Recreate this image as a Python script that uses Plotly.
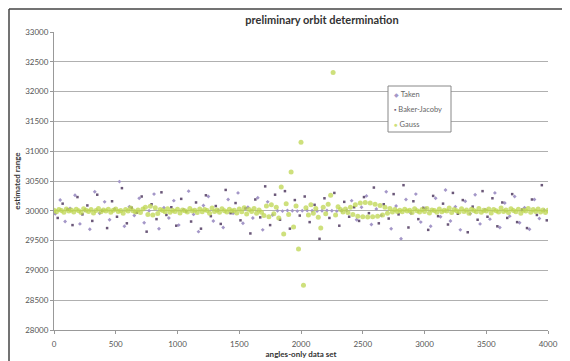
import plotly.graph_objects as go

# ---------------- data ----------------
gauss_x = list(range(0, 4001, 20))
gauss_y = [
    30010, 29985, 30020, 30005, 29975, 30030, 29995, 30015, 29980, 30025,
    30000, 29970, 30035, 30010, 29990, 30020, 29965, 30005, 30040, 29985,
    30015, 29995, 30025, 29975, 30010, 30030, 29990, 30005, 29960, 30020,
    29995, 30045, 30000, 29980, 30015, 29970, 30030, 30060, 29940, 30075,
    29930, 30050, 29955, 30020, 30005, 29985, 30035, 29975, 30010, 29990,
    30025, 29965, 30015, 30000, 29980, 30040, 29995, 30010, 29970, 30030,
    29985, 30020, 30005, 29960, 30045, 29990, 30015, 29975, 30035, 30000,
    29980, 30025, 29995, 30010, 29965, 30030, 29985, 30050, 29945, 30020,
    29990, 30040, 29960, 30015, 29975,
    29920, 30080, 29900, 30100, 29950, 30060, 29880, 30400, 29610, 30120,
    29940, 30650, 29730, 30080, 29360, 31150, 28750, 30050, 29930, 30100,
    29960, 30040, 29890, 29710, 30060, 29950, 30110, 30260, 32320, 29930,
    30070,
    30020, 29980, 30030, 29970, 30060, 29940, 30100, 29910, 30130, 29900,
    30140, 29895, 30130, 29900, 30110, 29910, 30090, 29930, 30060, 29960,
    30040, 29980, 30020, 29990, 30010,
    29985, 30025, 29995, 30010, 29970, 30035, 30000, 29980, 30020, 29990,
    30040, 29965, 30015, 30005, 29975, 30030, 29985, 30010, 29995, 30045,
    29970, 30020, 30000, 29980, 30035, 29990, 30015, 29960, 30025, 30005,
    29985, 30040, 29975, 30010, 29995, 30030, 29965, 30020, 30000, 29980,
    30045, 29990, 30015, 29970, 30035, 30005, 29985, 30025, 29960, 30010,
    29995, 30040, 29975, 30020, 29990, 30030, 29980, 30015, 29970, 30010,
]

taken_x = list(range(10, 4000, 40))
taken_y = [
    29950, 30180, 29820, 30040, 30260, 29780, 30010, 29690, 30320, 29960,
    30150, 29850, 30030, 30490, 29740, 30070, 29920, 30210, 29800, 30000,
    30280, 29700, 30050, 29880, 30170, 29760, 30020, 30330, 29940, 29650,
    30090, 30240, 29830, 30010, 29720, 30190, 29960, 30300, 29790, 30060,
    29880, 30220, 29680, 30150, 29930, 30000, 29995, 30005, 30000, 29995,
    30000, 30005, 30000, 29995, 30000, 30005, 30000, 29995, 30000, 30005,
    30170, 29850, 30060, 30250, 29770, 30030, 29920, 30320, 29700, 30080,
    29530, 30190, 29960, 30280, 29810, 30040, 29740, 30210, 29900, 30350,
    29830, 30070, 29680, 30160, 29950, 30270, 29780, 30020, 29860, 30300,
    29720, 30130, 29910, 30240, 29800, 30050, 29690, 30190, 29870, 30010,
]

bj_x = list(range(30, 4000, 40))
bj_y = [
    29880, 30120, 30020, 29760, 30230, 29940, 30090, 29830, 30270, 30000,
    29710, 30160, 29900, 30380, 29790, 30050, 29970, 30240, 29650, 30110,
    29860, 30310, 29930, 30060, 29750, 30200, 29990, 29820, 30140, 29700,
    30260, 29910, 30080, 29780, 30350, 29960, 30130, 29840, 30040, 29620,
    30190, 29890, 30410, 29760, 30270, 29850, 30330, 29700, 30180, 29920,
    30240, 29810, 30100, 29530, 30210, 29880, 30300, 29750, 30150, 29900,
    30060, 29830, 30230, 29960, 30390, 29790, 30110, 29870, 30280, 29940,
    30430, 29720, 30160, 29860, 30050, 29680, 30250, 29910, 30120, 29770,
    30300, 29950, 30180, 29640, 30070, 29850, 30330, 29900, 30210, 29740,
    30140, 29880, 30280, 29810, 30020, 29710, 30190, 29930, 30430, 29840,
]

series_names = ["Taken", "Baker-Jacoby", "Gauss"]
series_colors = ["#a497c8", "#6a5778", "rgba(190,214,80,0.75)"]
legend_glyphs = ["◆", "▪", "●"]

y_ticks = [28000, 28500, 29000, 29500, 30000, 30500, 31000, 31500, 32000, 32500, 33000]
x_ticks = [0, 500, 1000, 1500, 2000, 2500, 3000, 3500, 4000]

# ---------------- figure ----------------
FONT = "Lato, Open Sans, sans-serif"
W, H = 562, 353
L, R, T, B = 46, 22, 24, 31
PW, PH = W - L - R, H - T - B
OFF = 8  # page body margin


def px_x(p):  # page pixel -> paper x
    return (p - OFF - L) / PW


def px_y(p):  # page pixel -> paper y
    return (H - B + OFF - p) / PH


fig = go.Figure()
fig.add_trace(go.Scatter(
    x=taken_x, y=taken_y, mode="markers", name=series_names[0],
    marker=dict(size=3, color=series_colors[0], symbol="diamond"),
))
fig.add_trace(go.Scatter(
    x=bj_x, y=bj_y, mode="markers", name=series_names[1],
    marker=dict(size=2.5, color=series_colors[1], symbol="square"),
))
fig.add_trace(go.Scatter(
    x=gauss_x, y=gauss_y, mode="markers", name=series_names[2],
    marker=dict(size=5, color=series_colors[2], line=dict(width=0)),
))

fig.update_layout(
    width=W, height=H,
    margin=dict(l=L, r=R, t=T, b=B),
    paper_bgcolor="white", plot_bgcolor="white",
    font=dict(family=FONT, size=8, color="#555555"),
    title=dict(text="<b>preliminary orbit determination</b>",
               x=(322 - OFF) / W, xanchor="center", y=1 - 12 / H, yanchor="middle",
               font=dict(size=11, color="#333333")),
    showlegend=False,
    xaxis=dict(range=[0, 4000], tickvals=x_ticks, ticktext=[str(v) for v in x_ticks],
               showgrid=False, automargin=False,
               showline=True, linecolor="#999999", linewidth=1,
               ticks="outside", ticklen=3, tickcolor="#999999",
               ticklabelstandoff=3,
               zeroline=False, tickfont=dict(size=8),
               title=dict(text="<b>angles-only data set</b>", standoff=2,
                          font=dict(size=8, color="#333333"))),
    yaxis=dict(range=[28000, 33000], tickvals=y_ticks, ticktext=[str(v) for v in y_ticks],
               showgrid=True, gridcolor="#b0b0b0", gridwidth=1, automargin=False,
               showline=True, linecolor="#999999", linewidth=1,
               ticks="outside", ticklen=3, tickcolor="#999999",
               zeroline=False, tickfont=dict(size=8),
               title=dict(text="<b>estimated range</b>", standoff=3,
                          font=dict(size=8, color="#333333"))),
)

# legend box (compact, as in the reference)
fig.add_shape(type="rect", xref="paper", yref="paper",
              x0=px_x(388), x1=px_x(451), y0=px_y(132), y1=px_y(86),
              fillcolor="white", line=dict(color="#888888", width=1), layer="above")
for i, (name, col, g) in enumerate(zip(series_names, series_colors, legend_glyphs)):
    fig.add_annotation(xref="paper", yref="paper", x=px_x(392), y=px_y(94 + 15 * i),
                       xanchor="left", yanchor="middle", showarrow=False,
                       text=f'<span style="color:{col};font-size:6px">{g}</span> {name}',
                       font=dict(size=7.5, color="#666666"))

# outer chart frame (top and left edges visible)
fx0 = (1 - L) / PW
fy1 = 1 + (T - 1) / PH
fig.add_shape(type="line", xref="paper", yref="paper",
              x0=fx0, x1=1 + (R + 5) / PW, y0=fy1, y1=fy1,
              line=dict(color="#444444", width=1.5))
fig.add_shape(type="line", xref="paper", yref="paper",
              x0=fx0, x1=fx0, y0=-(B + 5) / PH, y1=fy1,
              line=dict(color="#444444", width=1.5))

fig.write_html("out.html")
